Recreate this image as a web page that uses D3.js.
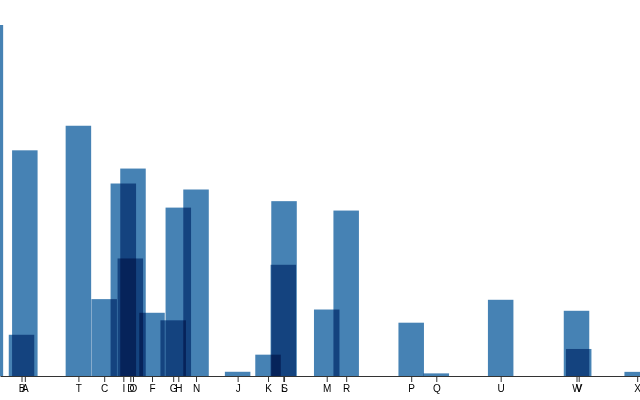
<!DOCTYPE html>
<html>
<head>
<meta charset="utf-8">
<script src="https://cdn.jsdelivr.net/npm/d3@7"></script>
<style>
  body { margin: 0; background: #fff; }
  svg { display: block; }
  .bar { fill: steelblue; mix-blend-mode: multiply; }
</style>
</head>
<body>
<script>
const WIDTH  = 640;
const HEIGHT = 400;
const BASE_Y = 376;
const TOP_Y  = 25;
const BAR_W  = 25.5;

// letters, their frequency and the position value they sit at on the x axis
const letters   = ["E", "B", "A", "T", "C", "I", "D", "O", "F", "G", "H", "N",
                   "J", "K", "L", "S", "M", "R", "P", "Q", "U", "W", "V", "X"];
const frequency = [0.12702, 0.01492, 0.08167, 0.09056, 0.02782, 0.06966, 0.04253, 0.07507,
                   0.02288, 0.02015, 0.06094, 0.06749, 0.00153, 0.00772, 0.04025, 0.06327,
                   0.02406, 0.05987, 0.01929, 0.00095, 0.02758, 0.02360, 0.00978, 0.00150];
const position  = [-1.5, 3.36, 3.88, 12.25, 16.28, 19.27, 20.36, 20.78, 23.75, 27.06, 27.86, 30.63,
                   37.13, 41.88, 44.27, 44.38, 51.05, 54.09, 64.25, 68.17, 78.23, 90.08, 90.42, 99.56];

const dataset = letters.map((l, i) => ({ letter: l, freq: frequency[i], pos: position[i] }));

const svg = d3.select("body").append("svg")
    .attr("width", WIDTH)
    .attr("height", HEIGHT);

const xScale = d3.scaleLinear().domain([0, 100]).range([0, WIDTH]);
const yScale = d3.scaleLinear().domain([0, d3.max(frequency)]).range([BASE_Y, TOP_Y]);

// Bars - multiply blending so overlaps get darker
svg.append("g")
  .selectAll("rect")
  .data(dataset)
  .enter()
  .append("rect").attr("class", "bar")
    .attr("x", d => xScale(d.pos) - BAR_W / 2)
    .attr("y", d => yScale(d.freq))
    .attr("width", BAR_W)
    .attr("height", d => BASE_Y - yScale(d.freq));

const xAxis = d3.axisBottom(xScale)
    .tickValues(position)
    .tickFormat((d, i) => letters[i])
    .tickSizeOuter(0);

svg.append("g")
    .attr("id", "x-axis")
    .attr("transform", "translate(0," + BASE_Y + ")")
    .call(xAxis)
    .call(g => g.select(".domain").attr("stroke", "#333"))
    .call(g => g.selectAll(".tick line").attr("stroke", "#333"));
</script>
</body>
</html>
